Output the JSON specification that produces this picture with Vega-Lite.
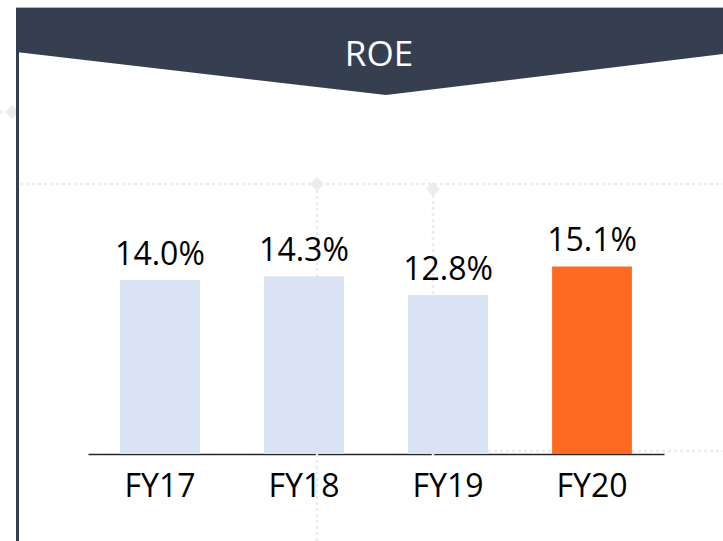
{
  "$schema": "https://vega.github.io/schema/vega-lite/v6.json",
  "width": 576,
  "height": 454,
  "autosize": {"type": "none"},
  "padding": {"left": 88, "top": 0, "right": 59, "bottom": 87},
  "background": "white",
  "config": {"view": {"stroke": null}, "font": "Open Sans"},
  "datasets": {
    "roe": [
      {"year": "FY17", "roe": 0.140},
      {"year": "FY18", "roe": 0.143},
      {"year": "FY19", "roe": 0.128},
      {"year": "FY20", "roe": 0.151}
    ],
    "banner": [
      {"px": 16, "top": 8, "bot": 52},
      {"px": 386, "top": 8, "bot": 95},
      {"px": 723, "top": 8, "bot": 54}
    ],
    "dots": [
      {"px": 20, "py": 184, "px2": 723, "py2": 184},
      {"px": 317, "py": 184, "px2": 317, "py2": 541},
      {"px": 433, "py": 189, "px2": 433, "py2": 456},
      {"px": 488, "py": 451, "px2": 723, "py2": 451},
      {"px": 0, "py": 112, "px2": 12, "py2": 112}
    ],
    "diamonds": [
      {"px": 317, "py": 184},
      {"px": 433, "py": 189},
      {"px": 12, "py": 112}
    ],
    "border": [
      {"px": 17.5, "py": 50, "py2": 541}
    ],
    "topline": [
      {"px": 16, "px2": 723, "py": 7.5}
    ],
    "heading": [
      {"px": 379, "py": 66, "label": "ROE"}
    ]
  },
  "layer": [
    {
      "layer": [
        {
          "data": {"name": "dots"},
          "mark": {"type": "rule", "color": "#ececec", "strokeWidth": 2.5, "strokeDash": [3, 3]},
          "encoding": {
            "x": {"field": "px", "type": "quantitative", "scale": {"domain": [88, 664], "nice": false, "zero": false}, "axis": null},
            "x2": {"field": "px2"},
            "y": {"field": "py", "type": "quantitative", "scale": {"domain": [0, 454], "reverse": true, "nice": false, "zero": false}, "axis": null},
            "y2": {"field": "py2"}
          }
        },
        {
          "data": {"name": "diamonds"},
          "mark": {"type": "point", "shape": "diamond", "filled": true, "color": "#ececec", "opacity": 1, "size": 200},
          "encoding": {
            "x": {"field": "px", "type": "quantitative"},
            "y": {"field": "py", "type": "quantitative"}
          }
        },
        {
          "data": {"name": "banner"},
          "mark": {"type": "area", "color": "#353f50", "opacity": 1},
          "encoding": {
            "x": {"field": "px", "type": "quantitative"},
            "y": {"field": "top", "type": "quantitative"},
            "y2": {"field": "bot"}
          }
        },
        {
          "data": {"name": "topline"},
          "mark": {"type": "rule", "color": "#b4b4b4", "strokeWidth": 1},
          "encoding": {
            "x": {"field": "px", "type": "quantitative"},
            "x2": {"field": "px2"},
            "y": {"field": "py", "type": "quantitative"}
          }
        },
        {
          "data": {"name": "border"},
          "mark": {"type": "rule", "color": "#353f50", "strokeWidth": 3},
          "encoding": {
            "x": {"field": "px", "type": "quantitative"},
            "y": {"field": "py", "type": "quantitative"},
            "y2": {"field": "py2"}
          }
        },
        {
          "data": {"name": "heading"},
          "mark": {"type": "text", "color": "white", "fontSize": 35, "font": "Open Sans", "align": "center", "baseline": "alphabetic"},
          "encoding": {
            "x": {"field": "px", "type": "quantitative"},
            "y": {"field": "py", "type": "quantitative"},
            "text": {"field": "label"}
          }
        }
      ]
    },
    {
      "data": {"name": "roe"},
      "encoding": {
        "x": {
          "field": "year",
          "type": "nominal",
          "sort": null,
          "scale": {"paddingInner": 0.4457, "paddingOuter": 0.2228},
          "axis": {
            "orient": "bottom",
            "title": null,
            "labelAngle": 0,
            "ticks": false,
            "tickSize": 0,
            "labelPadding": 42,
            "labelBaseline": "alphabetic",
            "labelFont": "Open Sans",
            "labelFontSize": 32,
            "labelColor": "#000000",
            "labelLimit": 0,
            "domainColor": "#262626",
            "domainWidth": 1.5,
            "grid": false
          }
        },
        "y": {"field": "roe", "type": "quantitative", "scale": {"domain": [0, 0.3655], "nice": false}, "axis": null}
      },
      "layer": [
        {
          "mark": {"type": "bar"},
          "encoding": {
            "color": {
              "field": "year",
              "type": "nominal",
              "scale": {"domain": ["FY17", "FY18", "FY19", "FY20"], "range": ["#dae3f3", "#dae3f3", "#dae3f3", "#ff6a22"]},
              "legend": null
            }
          }
        },
        {
          "mark": {"type": "text", "dy": -15, "baseline": "alphabetic", "align": "center", "fontSize": 32, "font": "Open Sans", "color": "#000000"},
          "encoding": {
            "text": {"field": "roe", "type": "quantitative", "format": ".1%"}
          }
        }
      ]
    }
  ],
  "resolve": {"scale": {"x": "independent", "y": "independent"}}
}
